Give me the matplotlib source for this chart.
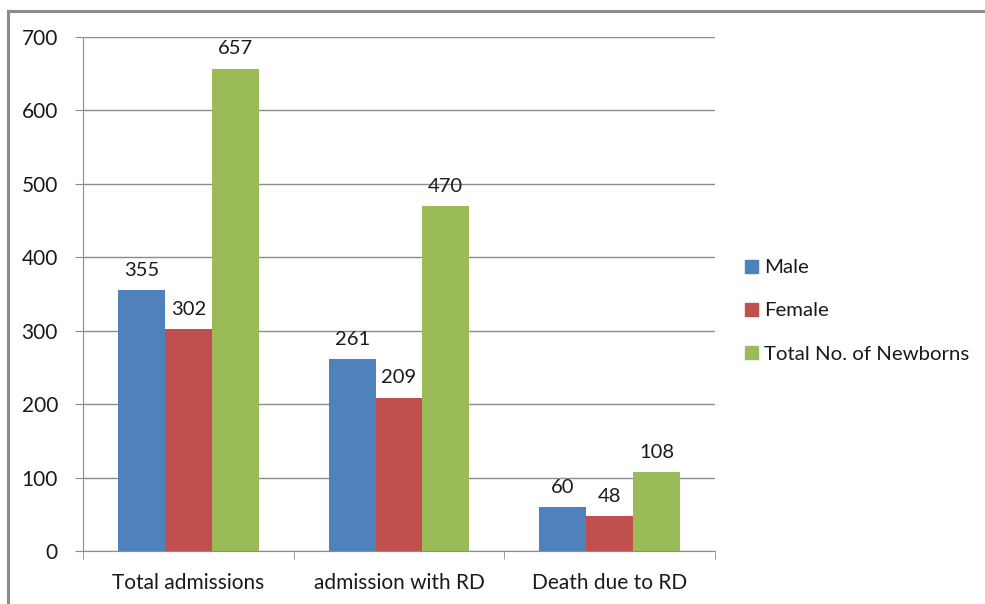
import numpy as np
import matplotlib.pyplot as plt
from matplotlib.patches import Rectangle, Patch

categories = ["Total admissions", "admission with RD", "Death due to RD"]
male = [355, 261, 60]
female = [302, 209, 48]
total = [657, 470, 108]
series_names = ["Male", "Female", "Total No. of Newborns"]
colors = ["#4F81BD", "#C0504D", "#9BBB59"]

plt.rcParams['font.family'] = ['Lato', 'DejaVu Sans']
txt = "#1a1a1a"

fig = plt.figure(figsize=(9.85, 6.04), dpi=100)
ax = fig.add_axes([83 / 985, 1 - 551 / 604, (715 - 83) / 985, (551 - 37) / 604])

# outer chart border
fig.patches.append(Rectangle((8 / 985, -0.05), 1.1, 1 - 11 / 604 + 0.05,
                             transform=fig.transFigure, fill=False,
                             edgecolor="#8c8c8c", linewidth=2.2))

x = np.arange(len(categories))
w = 1 / 4.5
for i, (vals, name, c) in enumerate(zip([male, female, total], series_names, colors)):
    pos = x + (i - 1) * w
    ax.bar(pos, vals, width=w, color=c, label=name, zorder=3)
    for p, v in zip(pos, vals):
        ax.annotate(str(v), (p, v), xytext=(0, 8), textcoords="offset points",
                    ha="center", va="bottom", fontsize=14.5, color=txt)

ax.set_xlim(-0.5, 2.5)
ax.set_ylim(0, 700)
ax.set_yticks(range(0, 701, 100))
ax.yaxis.grid(True, color="#8c8c8c", linewidth=1, zorder=0)
ax.set_xticks(x)
ax.set_xticklabels(categories)
ax.set_xticks([-0.5, 0.5, 1.5, 2.5], minor=True)
ax.tick_params(axis="x", which="major", length=0, pad=16, labelsize=15, labelcolor=txt)
ax.tick_params(axis="x", which="minor", length=6, color="#8c8c8c")
ax.tick_params(axis="y", length=6, color="#8c8c8c", labelsize=15, pad=12, labelcolor=txt)
for s in ["top", "right"]:
    ax.spines[s].set_visible(False)
for s in ["left", "bottom"]:
    ax.spines[s].set_color("#8c8c8c")

handles = [Patch(color=c) for c in colors]
leg = fig.legend(handles, series_names, loc="center left",
                 bbox_to_anchor=(727 / 985, 1 - 311 / 604), frameon=False,
                 fontsize=14.7, handlelength=0.6, handleheight=0.6,
                 handletextpad=0.3, labelspacing=1.28)
for t in leg.get_texts():
    t.set_color(txt)

fig.savefig("out.png", dpi=100)
